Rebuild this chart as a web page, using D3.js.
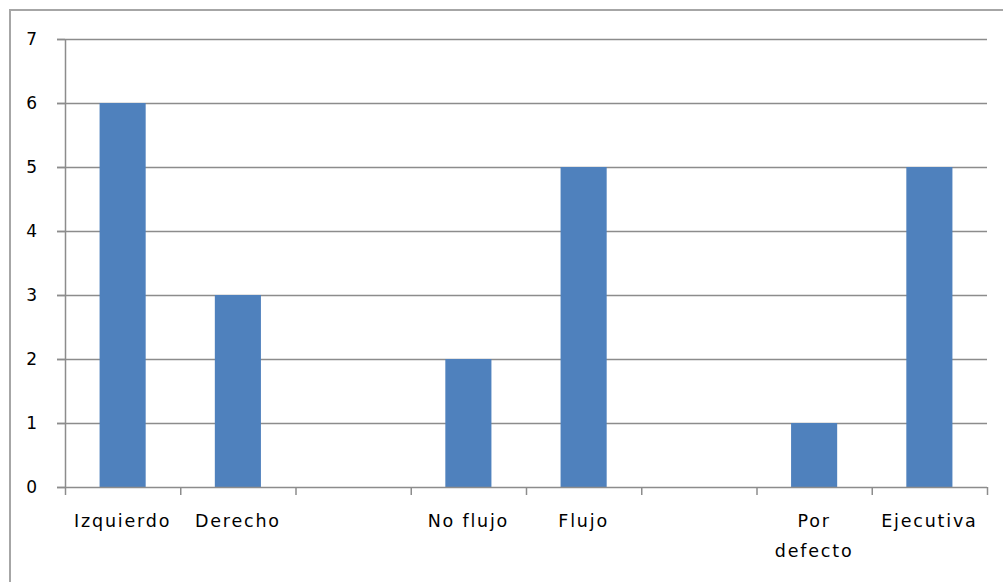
<!DOCTYPE html>
<html>
<head>
<meta charset="utf-8">
<script src="https://cdn.jsdelivr.net/npm/d3@7"></script>
<style>
  body { margin: 0; background: #fff; }
  text { font-family: "DejaVu Sans", sans-serif; fill: #000; }
</style>
</head>
<body>
<div class="chart"></div>
<script>
var categories = ['Izquierdo', 'Derecho', '', 'No flujo', 'Flujo', '', 'Por defecto', 'Ejecutiva'];
var values = [6, 3, 0, 2, 5, 0, 1, 5];
var yTicks = [0, 1, 2, 3, 4, 5, 6, 7];

var margin = { top: 39, right: 16, bottom: 95, left: 65 };
var width = 1003 - margin.left - margin.right;
var height = 582 - margin.top - margin.bottom;

var root = d3.select('.chart')
  .append('svg')
    .attr('width', 1003)
    .attr('height', 582);

// outer chart frame, runs off the right and bottom edges
root.append('rect')
  .attr('x', 10)
  .attr('y', 10)
  .attr('width', 1010)
  .attr('height', 600)
  .attr('fill', 'none')
  .attr('stroke', '#a6a6a6')
  .attr('stroke-width', 2);

var svg = root.append('g')
  .attr('transform', `translate(${margin.left}, ${margin.top})`);

var yScale = d3.scaleLinear()
  .domain([0, 7])
  .range([height, 0]);

var xScale = d3.scaleBand()
  .domain(d3.range(categories.length))
  .range([0, width])
  .paddingInner(0.6)
  .paddingOuter(0.3);

// gridlines
svg.append('g')
  .selectAll('line')
  .data(yTicks.filter(d => d > 0))
  .enter()
  .append('line')
  .attr('x1', -8)
  .attr('x2', width)
  .attr('y1', d => Math.round(yScale(d)) + 0.5)
  .attr('y2', d => Math.round(yScale(d)) + 0.5)
  .attr('stroke', '#8c8c8c')
  .attr('stroke-width', 1.5);

// bars
svg.selectAll('rect.bar')
  .data(values)
  .enter()
  .append('rect')
  .attr('class', 'bar')
  .attr('x', (d, i) => xScale(i))
  .attr('y', d => yScale(d))
  .attr('width', xScale.bandwidth())
  .attr('height', d => height - yScale(d))
  .attr('fill', '#4f81bd');

// y axis
var yAxis = d3.axisLeft(yScale)
  .tickValues(yTicks)
  .tickFormat(d3.format('d'))
  .tickSize(8)
  .tickPadding(20);

svg.append('g')
  .call(yAxis)
  .call(g => g.select('.domain').remove())
  .call(g => g.selectAll('.tick line').attr('stroke', '#8c8c8c').attr('stroke-width', 1.5))
  .call(g => g.selectAll('.tick text').style('font-size', '17px').attr('fill', '#111'));

svg.append('line')
  .attr('x1', 0.5).attr('x2', 0.5)
  .attr('y1', 0).attr('y2', height)
  .attr('stroke', '#8c8c8c')
  .attr('stroke-width', 1.5);

// x axis: ticks sit on category boundaries
var step = xScale.step();
var bounds = d3.range(categories.length + 1).map(i => i * step);

var xg = svg.append('g')
  .attr('transform', `translate(0, ${height})`);

xg.append('line')
  .attr('x1', -8).attr('x2', width)
  .attr('y1', 0.5).attr('y2', 0.5)
  .attr('stroke', '#8c8c8c')
  .attr('stroke-width', 1.5);

xg.selectAll('line.tick')
  .data(bounds)
  .enter()
  .append('line')
  .attr('class', 'tick')
  .attr('x1', d => d + 0.5).attr('x2', d => d + 0.5)
  .attr('y1', 0).attr('y2', 8)
  .attr('stroke', '#8c8c8c')
  .attr('stroke-width', 1.5);

xg.selectAll('text')
  .data(categories)
  .enter()
  .append('text')
  .attr('text-anchor', 'middle')
  .attr('transform', (d, i) => `translate(${xScale(i) + xScale.bandwidth() / 2}, 40)`)
  .style('font-size', '17.5px')
  .style('letter-spacing', '1.8px')
  .attr('fill', '#111')
  .each(function (d) {
    var words = d === 'Por defecto' ? ['Por', 'defecto'] : [d];
    d3.select(this).selectAll('tspan')
      .data(words)
      .enter()
      .append('tspan')
      .attr('x', 0)
      .attr('dy', (w, j) => j === 0 ? 0 : 30)
      .text(w => w);
  });
</script>
</body>
</html>
